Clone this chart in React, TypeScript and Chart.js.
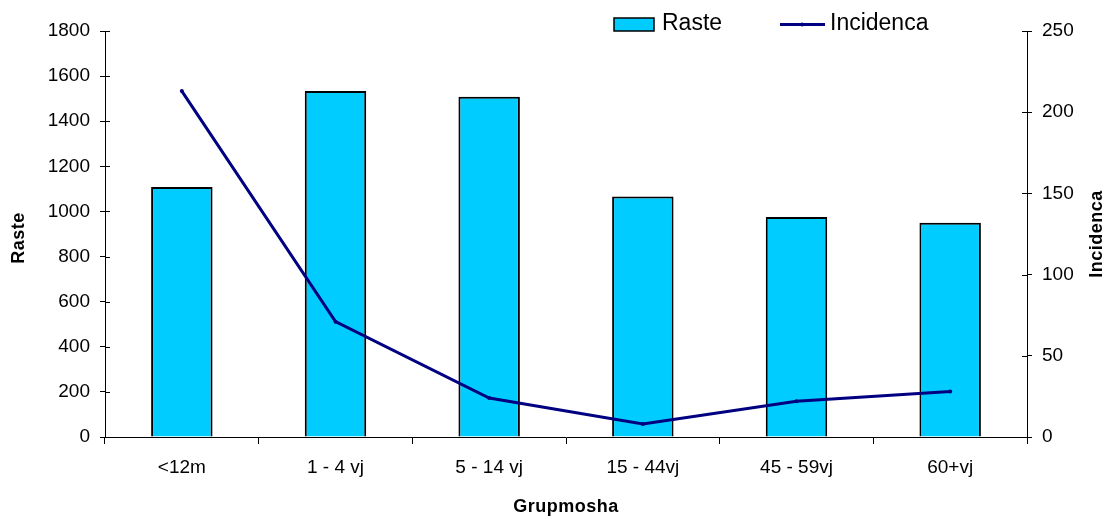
import React, { useEffect, useRef } from "react";
import { Chart, registerables } from "chart.js";

Chart.register(...registerables);

const categories = ["<12m", "1 - 4 vj", "5 - 14 vj", "15 - 44vj", "45 - 59vj", "60+vj"];
const rasteValues = [1108, 1534, 1508, 1066, 975, 950];
const incidencaValues = [213, 71, 24, 8, 22, 28];
const leftTicks = [0, 200, 400, 600, 800, 1000, 1200, 1400, 1600, 1800];
const rightTicks = [0, 50, 100, 150, 200, 250];

const FONT = "'Liberation Sans', Arial, sans-serif";
const BAR_COLOR = "#00CCFF";
const LINE_COLOR = "#000080";

const decorPlugin = {
  id: "decor",
  afterDraw(chart: any) {
    const ctx = chart.ctx as CanvasRenderingContext2D;
    const area = chart.chartArea;
    const yL = chart.scales.y;
    const yR = chart.scales.y1;
    ctx.save();
    ctx.strokeStyle = "#000";
    ctx.lineWidth = 1;
    ctx.beginPath();
    leftTicks.forEach((v) => {
      const py = Math.round(yL.getPixelForValue(v)) + 0.5;
      ctx.moveTo(area.left, py);
      ctx.lineTo(area.left + 5, py);
    });
    rightTicks.forEach((v) => {
      const py = Math.round(yR.getPixelForValue(v)) + 0.5;
      ctx.moveTo(area.right - 5, py);
      ctx.lineTo(area.right, py);
    });
    ctx.stroke();

    ctx.fillStyle = "#000";
    ctx.font = `bold 18px ${FONT}`;
    ctx.textAlign = "center";
    ctx.textBaseline = "middle";
    (ctx as any).letterSpacing = "0.5px";
    ctx.fillText("Grupmosha", (area.left + area.right) / 2, 507);
    const midY = (area.top + area.bottom) / 2;
    ctx.save();
    ctx.translate(19, midY + 4);
    ctx.rotate(-Math.PI / 2);
    ctx.fillText("Raste", 0, 0);
    ctx.restore();
    ctx.save();
    ctx.translate(1097, midY);
    ctx.rotate(-Math.PI / 2);
    ctx.fillText("Incidenca", 0, 0);
    ctx.restore();
    (ctx as any).letterSpacing = "0px";

    const ds = chart.data.datasets;
    ctx.font = `23px ${FONT}`;
    ctx.textAlign = "left";
    ctx.textBaseline = "middle";
    ctx.fillStyle = BAR_COLOR;
    ctx.fillRect(614, 18, 40, 13);
    ctx.lineWidth = 1.5;
    ctx.strokeStyle = "#000";
    ctx.strokeRect(614, 18, 40, 13);
    ctx.fillStyle = "#000";
    ctx.fillText(ds[0].label, 662, 24);
    ctx.strokeStyle = LINE_COLOR;
    ctx.lineWidth = 3;
    ctx.beginPath();
    ctx.moveTo(780, 24.5);
    ctx.lineTo(825, 24.5);
    ctx.stroke();
    ctx.fillStyle = LINE_COLOR;
    ctx.beginPath();
    ctx.arc(802, 24.5, 2, 0, Math.PI * 2);
    ctx.fill();
    ctx.fillStyle = "#000";
    ctx.fillText(ds[1].label, 830, 24);
    ctx.restore();
  },
};

export default function App() {
  const ref = useRef<HTMLCanvasElement>(null);
  useEffect(() => {
    if (!ref.current) return;
    const chart = new Chart(ref.current, {
      type: "bar",
      data: {
        labels: categories,
        datasets: [
          {
            type: "bar",
            label: "Raste",
            data: rasteValues,
            backgroundColor: BAR_COLOR,
            borderColor: "#000",
            borderWidth: 2,
            barPercentage: 0.4,
            categoryPercentage: 1,
            yAxisID: "y",
            order: 1,
          },
          {
            type: "line",
            label: "Incidenca",
            data: incidencaValues,
            borderColor: LINE_COLOR,
            backgroundColor: LINE_COLOR,
            borderWidth: 3,
            pointRadius: 2,
            pointBorderWidth: 0,
            pointBackgroundColor: LINE_COLOR,
            tension: 0,
            yAxisID: "y1",
            order: 0,
          } as any,
        ],
      },
      options: {
        animation: false,
        responsive: false,
        maintainAspectRatio: false,
        layout: { padding: { top: 31, left: 0, right: 0, bottom: 0 } },
        plugins: {
          legend: { display: false },
          tooltip: { enabled: false },
        },
        scales: {
          x: {
            offset: true,
            grid: {
              offset: true,
              drawOnChartArea: false,
              drawTicks: true,
              tickLength: 7,
              color: "#000",
            },
            border: { color: "#000", width: 1 },
            ticks: {
              color: "#000",
              font: { family: FONT, size: 19 },
              padding: 12,
              maxRotation: 0,
            },
            afterFit: (s: any) => {
              s.height = 82;
            },
          },
          y: {
            position: "left",
            min: 0,
            max: 1800,
            grid: { drawOnChartArea: false, tickLength: 5, color: "#000" },
            border: { color: "#000", width: 1 },
            afterBuildTicks: (s: any) => {
              s.ticks = leftTicks.map((v) => ({ value: v }));
            },
            ticks: {
              color: "#000",
              font: { family: FONT, size: 19 },
              padding: 10,
              callback: (v: any) => String(v),
            },
            afterFit: (s: any) => {
              s.width = 105;
            },
          },
          y1: {
            position: "right",
            min: 0,
            max: 250,
            grid: { drawOnChartArea: false, tickLength: 5, color: "#000" },
            border: { color: "#000", width: 1 },
            afterBuildTicks: (s: any) => {
              s.ticks = rightTicks.map((v) => ({ value: v }));
            },
            ticks: {
              color: "#000",
              font: { family: FONT, size: 19 },
              padding: 10,
              callback: (v: any) => String(v),
            },
            afterFit: (s: any) => {
              s.width = 79;
            },
          },
        },
      },
      plugins: [decorPlugin],
    });
    return () => chart.destroy();
  }, []);
  return (
    <div style={{ position: "fixed", left: 0, top: 0, width: 1106, height: 519, background: "#fff" }}>
      <canvas ref={ref} width={1106} height={519} style={{ width: 1106, height: 519, display: "block" }} />
    </div>
  );
}
